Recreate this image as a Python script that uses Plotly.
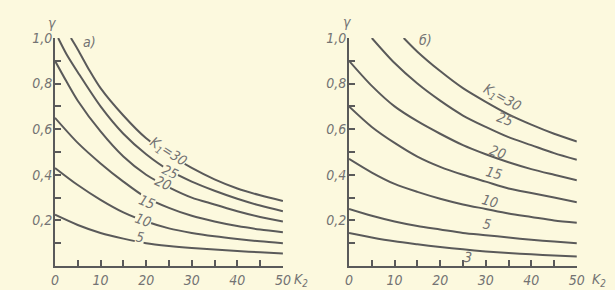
import plotly.graph_objects as go

# ---- data ----
# panel а)
a_k2_30 = [3.5, 5, 7.5, 10, 15, 20, 25, 30, 35, 40, 45, 50]
a_g_30 = [1.0, 0.95, 0.86, 0.78, 0.66, 0.56, 0.49, 0.43, 0.38, 0.34, 0.31, 0.285]
a_k2_25 = [0.7, 2.5, 5, 10, 15, 20, 25, 30, 35, 40, 45, 50]
a_g_25 = [1.0, 0.93, 0.85, 0.70, 0.58, 0.49, 0.42, 0.37, 0.33, 0.295, 0.265, 0.24]
a_k2_20 = [0, 2.5, 5, 10, 15, 20, 25, 30, 35, 40, 45, 50]
a_g_20 = [0.90, 0.81, 0.725, 0.59, 0.48, 0.40, 0.345, 0.30, 0.27, 0.24, 0.215, 0.195]
a_k2 = [0, 5, 10, 15, 20, 25, 30, 35, 40, 45, 50]
a_g_15 = [0.65, 0.54, 0.45, 0.37, 0.30, 0.255, 0.22, 0.195, 0.175, 0.16, 0.148]
a_g_10 = [0.43, 0.355, 0.29, 0.235, 0.195, 0.165, 0.145, 0.13, 0.118, 0.108, 0.10]
a_g_5 = [0.225, 0.18, 0.145, 0.12, 0.10, 0.088, 0.079, 0.072, 0.066, 0.060, 0.055]

# panel б)
b_k2_30 = [12, 15, 20, 25, 30, 35, 40, 45, 50]
b_g_30 = [1.0, 0.94, 0.855, 0.78, 0.72, 0.665, 0.62, 0.58, 0.546]
b_k2_25 = [5, 10, 15, 20, 25, 30, 35, 40, 45, 50]
b_g_25 = [1.0, 0.89, 0.80, 0.725, 0.66, 0.61, 0.565, 0.53, 0.495, 0.466]
b_k2 = [0, 5, 10, 15, 20, 25, 30, 35, 40, 45, 50]
b_g_20 = [0.90, 0.79, 0.70, 0.635, 0.58, 0.53, 0.49, 0.455, 0.425, 0.40, 0.376]
b_g_15 = [0.70, 0.61, 0.54, 0.48, 0.435, 0.40, 0.37, 0.34, 0.32, 0.30, 0.28]
b_g_10 = [0.47, 0.41, 0.36, 0.325, 0.295, 0.27, 0.25, 0.23, 0.215, 0.20, 0.19]
b_g_5 = [0.25, 0.22, 0.195, 0.175, 0.16, 0.145, 0.135, 0.125, 0.115, 0.107, 0.10]
b_g_3 = [0.145, 0.125, 0.108, 0.095, 0.083, 0.073, 0.064, 0.057, 0.051, 0.046, 0.042]

x_tickvals = [0, 5, 10, 15, 20, 25, 30, 35, 40, 45, 50]
x_ticktext = ["0", " ", "10", " ", "20", " ", "30", " ", "40", " ", "50"]
y_tickvals = [0.1, 0.2, 0.3, 0.4, 0.5, 0.6, 0.7, 0.8, 0.9, 1.0]
y_ticktext = [" ", "0,2", " ", "0,4", " ", "0,6", " ", "0,8", " ", "1,0"]

# curve labels: (text, x, y, angle)
a_labels = [("K<sub>1</sub>=30", 24.8, 0.50, 33), ("25", 25.2, 0.412, 25),
            ("20", 23.7, 0.364, 25), ("15", 20.2, 0.281, 22),
            ("10", 19.3, 0.20, 20), ("5", 18.6, 0.127, 10)]
b_labels = [("K<sub>1</sub>=30", 33.6, 0.738, 29), ("25", 34.2, 0.646, 20),
            ("20", 32.7, 0.502, 20), ("15", 31.8, 0.406, 15),
            ("10", 30.9, 0.284, 15), ("5", 30.3, 0.183, 10), ("3", 26.1, 0.039, 5)]

BG = "#FCF9DE"
LINE = "#5a5a5a"
TXT = "#737373"
FONT = "Liberation Sans Narrow, DejaVu Sans Condensed, Liberation Sans"

fig = go.Figure()

def add_curve(x, y, xa, ya):
    fig.add_trace(go.Scatter(x=x, y=y, mode="lines", xaxis=xa, yaxis=ya,
                             line=dict(color=LINE, width=2, shape="spline", smoothing=0.8),
                             showlegend=False, hoverinfo="skip"))

add_curve(a_k2_30, a_g_30, "x", "y")
add_curve(a_k2_25, a_g_25, "x", "y")
add_curve(a_k2_20, a_g_20, "x", "y")
add_curve(a_k2, a_g_15, "x", "y")
add_curve(a_k2, a_g_10, "x", "y")
add_curve(a_k2, a_g_5, "x", "y")

add_curve(b_k2_30, b_g_30, "x2", "y2")
add_curve(b_k2_25, b_g_25, "x2", "y2")
add_curve(b_k2, b_g_20, "x2", "y2")
add_curve(b_k2, b_g_15, "x2", "y2")
add_curve(b_k2, b_g_10, "x2", "y2")
add_curve(b_k2, b_g_5, "x2", "y2")
add_curve(b_k2, b_g_3, "x2", "y2")

tickfont = dict(family=FONT, size=14, color=TXT, style="italic")

def xaxis(domain, anchor):
    return dict(domain=domain, anchor=anchor, range=[0, 50], showline=True,
                linecolor=LINE, linewidth=2, ticks="inside", ticklen=6,
                tickwidth=1.5, tickcolor=LINE, tickvals=x_tickvals,
                ticktext=x_ticktext, tickfont=tickfont, showgrid=False,
                zeroline=False, fixedrange=True, automargin=False)

def yaxis(domain, anchor):
    return dict(domain=domain, anchor=anchor, range=[0, 1.0], showline=True,
                linecolor=LINE, linewidth=2, ticks="inside", ticklen=6,
                tickwidth=1.5, tickcolor=LINE, tickvals=y_tickvals,
                ticktext=y_ticktext, tickfont=tickfont, showgrid=False,
                zeroline=False, fixedrange=True, automargin=False,
                ticklabelstandoff=-2)

annots = []
lab_font = dict(family=FONT, size=14, color=TXT, style="italic")
for t, x, y, ang in a_labels:
    annots.append(dict(text=t, x=x, y=y, xref="x", yref="y", showarrow=False,
                       textangle=ang, font=lab_font, bgcolor=BG, borderpad=0))
for t, x, y, ang in b_labels:
    annots.append(dict(text=t, x=x, y=y, xref="x2", yref="y2", showarrow=False,
                       textangle=ang, font=lab_font))

# axis titles / panel marks (paper coordinates, outside the plot areas)
annots += [
    dict(text="γ", x=0.084, y=0.921, xref="paper", yref="paper", xanchor="center",
         yanchor="middle", showarrow=False, font=lab_font),
    dict(text="γ", x=0.565, y=0.925, xref="paper", yref="paper", xanchor="center",
         yanchor="middle", showarrow=False, font=lab_font),
    dict(text="K<sub>2</sub>", x=0.474, y=0.036, xref="paper", yref="paper", xanchor="left",
         yanchor="middle", showarrow=False, font=lab_font),
    dict(text="K<sub>2</sub>", x=0.959, y=0.036, xref="paper", yref="paper", xanchor="left",
         yanchor="middle", showarrow=False, font=lab_font),
    dict(text="а)", x=7.5, y=0.982, xref="x", yref="y", showarrow=False, font=lab_font),
    dict(text="б)", x=16.7, y=0.99, xref="x2", yref="y2", showarrow=False, font=lab_font),
]

ydom = [0.0828, 0.869]
fig.update_layout(
    width=615, height=290, margin=dict(l=0, r=0, t=0, b=0, pad=0, autoexpand=False),
    paper_bgcolor=BG, plot_bgcolor=BG,
    xaxis=xaxis([0.0894, 0.460], "y"),
    yaxis=yaxis(ydom, "x"),
    xaxis2=xaxis([0.5675, 0.938], "y2"),
    yaxis2=yaxis(ydom, "x2"),
    annotations=annots,
    showlegend=False,
)

fig.write_html("out.html", config={"displayModeBar": False})
